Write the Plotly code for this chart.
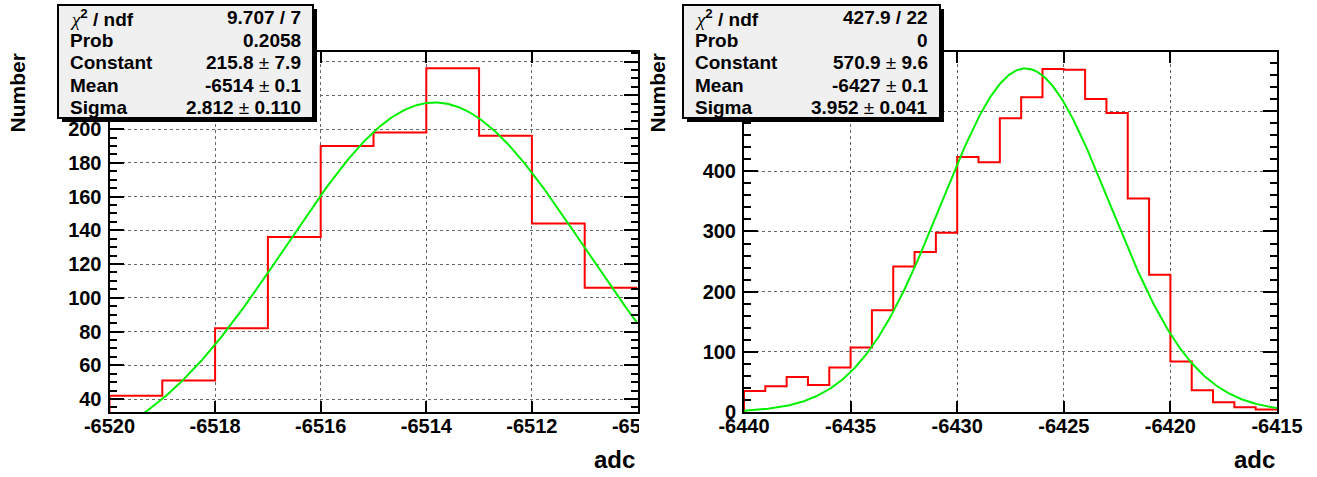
import numpy as np
import plotly.graph_objects as go

W, H = 1317, 477

# ---------------- data ----------------
left_first_edge = -6520
left_bin_width = 1
left_counts = [42, 51, 82, 136, 190, 198, 236, 196, 144, 106]
left_fit_constant = 215.8
left_fit_mean = -6513.84
left_fit_sigma = 2.812
left_xticks = [-6520, -6518, -6516, -6514, -6512, -6510]
left_stat_labels = ["χ<sup>2</sup> / ndf", "Prob", "Constant", "Mean", "Sigma"]
left_stat_values = ["9.707 / 7", "0.2058", "215.8 ± 7.9", "-6514 ± 0.1", "2.812 ± 0.110"]

right_first_edge = -6440
right_bin_width = 1
right_counts = [35, 43, 58, 45, 74, 107, 169, 242, 266, 298, 424, 415, 488,
                523, 570, 569, 520, 497, 355, 228, 84, 36, 16, 8, 4]
right_fit_constant = 570.9
right_fit_mean = -6426.8
right_fit_sigma = 3.952
right_xticks = [-6440, -6435, -6430, -6425, -6420, -6415]
right_stat_labels = ["χ<sup>2</sup> / ndf", "Prob", "Constant", "Mean", "Sigma"]
right_stat_values = ["427.9 / 22", "0", "570.9 ± 9.6", "-6427 ± 0.1", "3.952 ± 0.041"]

x_title = "adc"
y_title = "Number"

FONT = "Liberation Sans"


def px(p):
    return p / W


def py(p):
    return 1 - p / H


def yrange(counts):
    lo, hi = min(counts), max(counts)
    ymin = lo - 0.05 * (hi - lo)
    if ymin < 0:
        ymin = 0
    return ymin, hi + 0.05 * (hi - lo)


def hist_xy(first_edge, width, counts, ymin):
    edges = [first_edge + i * width for i in range(len(counts) + 1)]
    xs = [edges[0]] + edges
    ys = [ymin] + list(counts) + [counts[-1]]
    return xs, ys


def styled(text):
    text = text.replace("χ", '<span style="font-family:Liberation Serif;font-weight:normal;font-style:italic">χ</span>')
    text = text.replace("±", '<span style="font-weight:normal">±</span>')
    return text


fig = go.Figure()

panels = [
    dict(first=left_first_edge, w=left_bin_width, counts=left_counts,
         c=left_fit_constant, m=left_fit_mean, s=left_fit_sigma,
         xticks=left_xticks, ax="x", ay="y", ydt=20, ymin_minor=5),
    dict(first=right_first_edge, w=right_bin_width, counts=right_counts,
         c=right_fit_constant, m=right_fit_mean, s=right_fit_sigma,
         xticks=right_xticks, ax="x2", ay="y2", ydt=100, ymin_minor=20),
]

for p in panels:
    ymin, ymax = yrange(p["counts"])
    p["yr"] = (ymin, ymax)
    xs, ys = hist_xy(p["first"], p["w"], p["counts"], ymin)
    fig.add_trace(go.Scatter(x=xs, y=ys, mode="lines", line=dict(color="#ff0000", width=2, shape="hv"),
                             xaxis=p["ax"], yaxis=p["ay"], showlegend=False, hoverinfo="skip"))
    x0 = p["first"]
    x1 = p["first"] + p["w"] * len(p["counts"])
    xf = np.linspace(x0, x1, 400)
    yf = p["c"] * np.exp(-0.5 * ((xf - p["m"]) / p["s"]) ** 2)
    fig.add_trace(go.Scatter(x=xf, y=yf, mode="lines", line=dict(color="#00f000", width=2),
                             xaxis=p["ax"], yaxis=p["ay"], showlegend=False, hoverinfo="skip"))

ydom = [py(412), py(52)]
xdoms = [[px(109.5), px(637.5)], [px(744), px(1277)]]

tickfont = dict(family=FONT, size=20, color="black", weight="bold")

layout_axes = {}
for i, p in enumerate(panels):
    xa = "xaxis" if i == 0 else "xaxis2"
    ya = "yaxis" if i == 0 else "yaxis2"
    x0 = p["first"]
    x1 = p["first"] + p["w"] * len(p["counts"])
    layout_axes[xa] = dict(
        domain=xdoms[i], range=[x0, x1], anchor=p["ay"], automargin=False,
        tickmode="array", tickvals=p["xticks"], ticktext=[str(t) for t in p["xticks"]],
        ticks="inside", ticklen=11, tickwidth=2, tickcolor="black",
        showline=True, linewidth=2, linecolor="black", mirror="ticks",
        showgrid=True, gridcolor="#666666", griddash="dot", gridwidth=1,
        zeroline=False, tickfont=tickfont, ticklabelstandoff=-5,
    )
    layout_axes[ya] = dict(
        domain=ydom, range=list(p["yr"]), anchor=p["ax"], automargin=False,
        tickmode="linear", tick0=0, dtick=p["ydt"],
        ticks="inside", ticklen=14, tickwidth=2, tickcolor="black",
        minor=dict(dtick=p["ymin_minor"], tick0=0, ticks="inside", ticklen=7, tickwidth=2,
                   tickcolor="black", showgrid=False),
        showline=True, linewidth=2, linecolor="black", mirror="ticks",
        showgrid=True, gridcolor="#666666", griddash="dot", gridwidth=1,
        zeroline=False, tickfont=tickfont, ticklabelstandoff=2,
    )

shapes = []
annotations = []

# clip the left panel's last tick label at the pad edge
shapes.append(dict(type="rect", xref="paper", yref="paper", layer="above",
                   x0=px(639), x1=px(672), y0=py(445), y1=py(414),
                   fillcolor="white", line=dict(width=0)))

boxes = [
    dict(x0=58, x1=313, labels=left_stat_labels, values=left_stat_values),
    dict(x0=683, x1=940, labels=right_stat_labels, values=right_stat_values),
]
row_y = [18, 40.5, 63, 85.5, 108]
for b in boxes:
    shapes.append(dict(type="rect", xref="paper", yref="paper", layer="above",
                       x0=px(b["x0"] + 4), x1=px(b["x1"] + 4), y0=py(122), y1=py(9),
                       fillcolor="black", line=dict(width=0)))
    shapes.append(dict(type="rect", xref="paper", yref="paper", layer="above",
                       x0=px(b["x0"]), x1=px(b["x1"]), y0=py(118), y1=py(5),
                       fillcolor="#f0f0f0", line=dict(color="black", width=2)))
    for lab, val, yy in zip(b["labels"], b["values"], row_y):
        annotations.append(dict(xref="paper", yref="paper", x=px(b["x0"] + 10), y=py(yy),
                                xanchor="left", yanchor="middle", text=styled(lab), showarrow=False,
                                font=dict(family=FONT, size=19, color="black", weight="bold")))
        annotations.append(dict(xref="paper", yref="paper", x=px(b["x1"] - 10), y=py(yy),
                                xanchor="right", yanchor="middle", text=styled(val), showarrow=False,
                                font=dict(family=FONT, size=19, color="black", weight="bold")))

for xc in [17, 657]:
    annotations.append(dict(xref="paper", yref="paper", x=px(xc), y=py(52), xanchor="center",
                            yanchor="top", text=y_title, textangle=-90, showarrow=False,
                            font=dict(family=FONT, size=21, color="black", weight="bold")))
for xr in [637, 1277]:
    annotations.append(dict(xref="paper", yref="paper", x=px(xr), y=py(459), xanchor="right",
                            yanchor="middle", text=x_title, showarrow=False,
                            font=dict(family=FONT, size=24, color="black", weight="bold")))

fig.update_layout(
    template="none",
    width=W, height=H, margin=dict(l=0, r=0, t=0, b=0, pad=0, autoexpand=False),
    paper_bgcolor="white", plot_bgcolor="white",
    shapes=shapes, annotations=annotations, showlegend=False,
    **layout_axes,
)

fig.write_html("out.html")
